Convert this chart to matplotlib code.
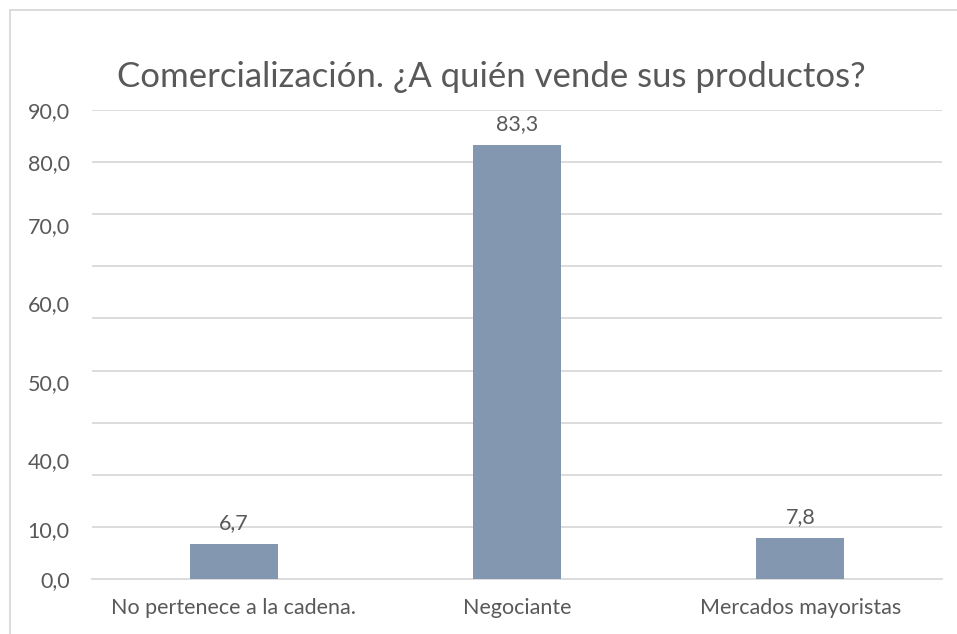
import matplotlib
matplotlib.use("Agg")
import matplotlib.pyplot as plt
from matplotlib.lines import Line2D

categories = ["No pertenece a la cadena.", "Negociante", "Mercados mayoristas"]
values = [6.7, 83.3, 7.8]
value_labels = ["6,7", "83,3", "7,8"]
grid_values = [10, 20, 30, 40, 50, 60, 70, 80, 90]
tick_labels = ["0,0", "10,0", "40,0", "50,0", "60,0", "70,0", "80,0", "90,0"]
tick_label_positions = [0, 9.6, 22.9, 37.7, 53.0, 68.0, 80.0, 90.0]
title = "Comercialización. ¿A quién vende sus productos?"

plt.rcParams['font.family'] = ['Lato', 'DejaVu Sans']
text_color = "#595959"
bar_color = "#8497B0"
grid_color = "#D9D9D9"

fig = plt.figure(figsize=(9.57, 6.34), dpi=100)
ax = fig.add_axes([0.0961, 0.0868, 0.8882, 0.7397])

x = list(range(len(categories)))
bars = ax.bar(x, values, width=0.31, color=bar_color, zorder=3)
for xi, v, lab in zip(x, values, value_labels):
    ax.annotate(lab, (xi, v), xytext=(0, 8), textcoords="offset points",
                ha="center", va="bottom", fontsize=15.5, color=text_color)

for g in grid_values:
    ax.axhline(g, color=grid_color, linewidth=1.3, zorder=0)

ax.set_xlim(-0.5, 2.5)
ax.set_ylim(0, 90)
ax.set_yticks(tick_label_positions)
ax.set_yticklabels(tick_labels, fontsize=15.5, color=text_color)
ax.tick_params(axis="y", length=0, pad=16)
ax.set_xticks(x)
ax.set_xticklabels(categories, fontsize=15.5, color=text_color)
ax.tick_params(axis="x", length=0, pad=14)
for s in ["top", "right", "left"]:
    ax.spines[s].set_visible(False)
ax.spines["bottom"].set_color(grid_color)
ax.spines["bottom"].set_linewidth(1.3)

fig.text(0.513, 0.879, title, ha="center", va="center", fontsize=25, color=text_color)

fig.add_artist(Line2D([10/957, 1.0], [1 - 10/634, 1 - 10/634], color="#D9D9D9", linewidth=1.3, transform=fig.transFigure))
fig.add_artist(Line2D([10/957, 10/957], [0, 1 - 10/634], color="#D9D9D9", linewidth=1.3, transform=fig.transFigure))

fig.savefig("out.png", dpi=100, facecolor="white")
